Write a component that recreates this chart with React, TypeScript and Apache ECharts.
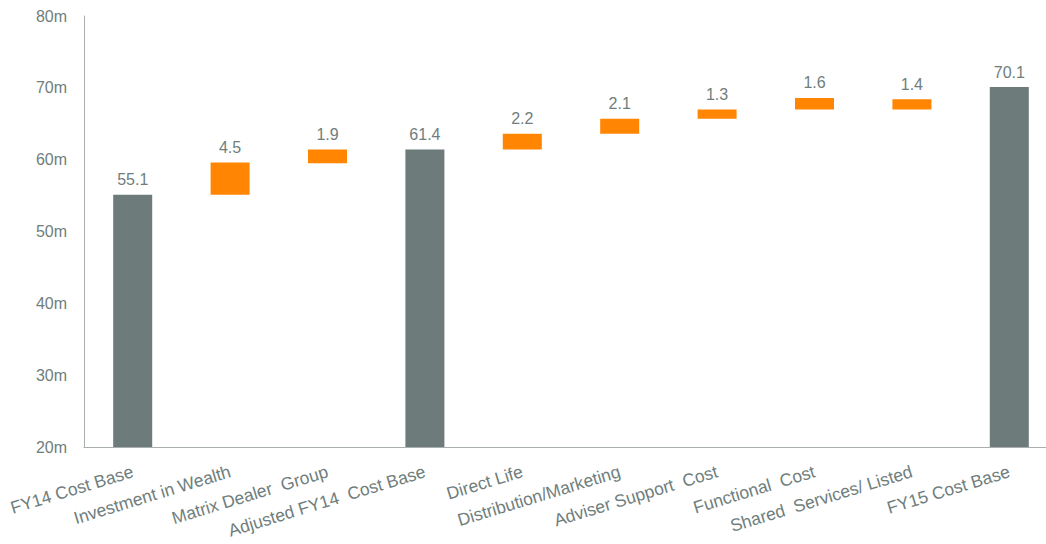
import React, { useEffect, useRef } from "react";
import * as echarts from "echarts";

const categories = [
  "FY14 Cost Base",
  "Investment in Wealth",
  "Matrix Dealer  Group",
  "Adjusted FY14  Cost Base",
  "Direct Life",
  "Distribution/Marketing",
  "Adviser Support  Cost",
  "Functional  Cost",
  "Shared  Services/ Listed",
  "FY15 Cost Base",
];
const values = [55.1, 4.5, 1.9, 61.4, 2.2, 2.1, 1.3, 1.6, 1.4, 70.1];
const bases = [0, 55.1, 59.5, 0, 61.4, 63.6, 65.7, 67.0, 67.0, 0];
const isTotal = [true, false, false, true, false, false, false, false, false, true];
const yTicks = [20, 30, 40, 50, 60, 70, 80];

const GRAY = "#6d7c7b";
const ORANGE = "#ff8503";
const TEXT = "#6f7e7d";
const FONT = "'Liberation Sans', Arial, sans-serif";

export default function App() {
  const ref = useRef<HTMLDivElement>(null);
  useEffect(() => {
    if (!ref.current) return;
    const chart = echarts.init(ref.current, undefined, { renderer: "svg" });
    chart.setOption({
      animation: false,
      textStyle: { fontFamily: FONT },
      grid: {
        left: 84,
        top: 16,
        width: 974,
        height: 431,
        containLabel: false,
        outerBoundsMode: "none",
      },
      xAxis: {
        type: "category",
        data: categories,
        axisLine: { lineStyle: { color: "#a9afae", width: 1 } },
        axisTick: { show: false },
        axisLabel: {
          rotate: 17,
          margin: 24,
          fontSize: 17.5,
          color: TEXT,
          fontFamily: FONT,
          interval: 0,
        },
      },
      yAxis: {
        type: "value",
        min: yTicks[0],
        max: yTicks[yTicks.length - 1],
        interval: 10,
        axisLine: { show: true, lineStyle: { color: "#a9afae", width: 1 } },
        axisTick: { show: false },
        splitLine: { show: false },
        axisLabel: {
          fontSize: 16,
          color: TEXT,
          fontFamily: FONT,
          margin: 17,
          formatter: (v: number) => `${v}m`,
        },
      },
      series: [
        {
          type: "bar",
          stack: "w",
          barWidth: 39,
          silent: true,
          itemStyle: { color: "transparent" },
          data: bases,
        },
        {
          type: "bar",
          stack: "w",
          barWidth: 39,
          data: values.map((v, i) => ({
            value: v,
            itemStyle: { color: isTotal[i] ? GRAY : ORANGE },
          })),
          label: {
            show: true,
            position: "top",
            distance: 7,
            fontSize: 16,
            color: TEXT,
            fontFamily: FONT,
            formatter: (p: any) => Number(p.value).toFixed(1),
          },
        },
      ],
    });
    return () => chart.dispose();
  }, []);
  return (
    <div
      ref={ref}
      style={{ position: "fixed", left: 0, top: 0, width: 1046, height: 544, background: "#fff" }}
    />
  );
}
